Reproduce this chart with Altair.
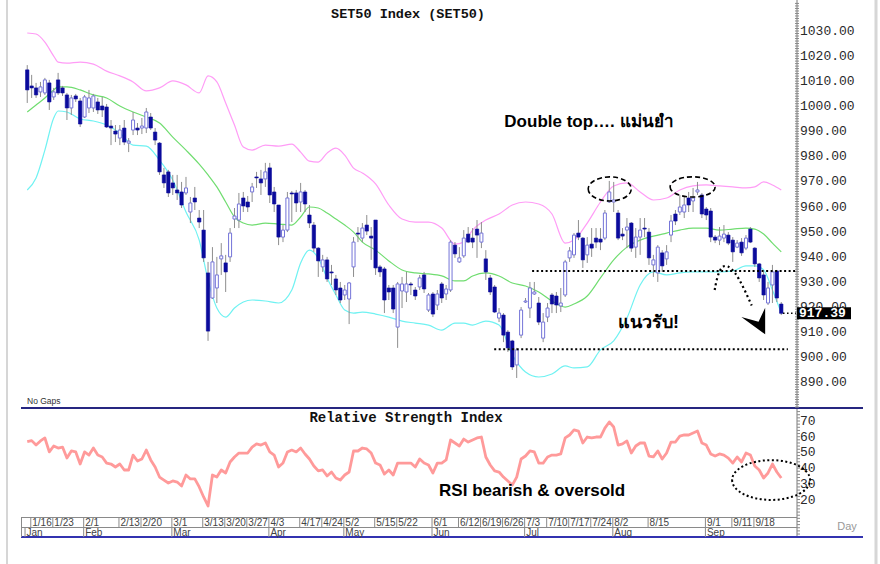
import altair as alt
import pandas as pd

# ---------------- data ----------------
opens = [1014.5,1008.1,1007.3,1005.7,1005.3,1009.3,1003.7,1010.5,1007.3,1004.5,
 999.3,1004.1,1002.1,995.7,999.3,999.3,1001.7,1000.1,999.7,992.1,
 990.1,987.3,991.3,985.3,990.5,991.3,991.3,991.3,995.7,989.7,
 985.3,972.6,973.8,969.4,966.6,965.8,965.4,957.8,963.4,955.4,
 950.6,933.5,923.5,927.5,939.1,937.5,939.9,955.0,954.6,963.4,
 961.8,965.8,971.8,971.0,971.0,975.4,965.8,960.6,947.8,950.6,
 965.4,965.4,961.8,965.8,956.6,952.6,943.4,935.9,938.7,933.9,
 931.1,927.5,924.7,923.1,935.9,949.4,947.4,952.6,948.2,954.6,
 935.9,935.1,927.5,927.5,911.9,926.3,925.9,929.1,926.7,927.9,
 932.7,918.7,925.1,920.7,929.1,925.1,926.7,944.6,937.9,940.3,
 949.0,947.4,951.0,945.8,939.1,931.5,927.9,915.5,916.7,909.9,
 906.4,896.8,908.7,921.9,919.5,925.1,921.5,907.5,915.9,924.7,
 924.3,920.3,924.7,939.5,940.7,949.4,947.4,940.7,945.0,947.4,
 947.0,947.4,961.8,961.8,957.4,949.0,950.6,953.4,943.8,
 947.8,951.4,949.8,936.7,933.5,941.5,939.1,948.6,957.0,957.8,
 957.8,963.4,962.2,965.8,964.6,959.0,958.2,947.8,946.6,947.4,
 948.6,946.6,943.8,945.8,943.4,951.0,943.4,937.1,932.7,921.5,
 928.7,934.3,921.1]
highs = [1016.4,1012.5,1009.3,1009.7,1011.3,1010.5,1007.3,1013.3,1008.1,1005.3,
 1004.5,1004.9,1003.3,1004.5,1006.5,1004.9,1003.3,1003.7,1000.9,994.5,
 992.5,992.5,994.5,987.3,997.7,993.3,995.3,999.3,997.3,991.3,
 985.7,975.4,974.6,972.6,972.6,969.8,971.8,963.8,967.8,958.6,
 958.6,937.9,943.8,939.9,945.4,940.7,951.4,959.4,965.4,965.8,
 964.2,969.4,973.8,974.6,977.4,977.4,967.8,960.6,952.6,965.8,
 966.2,966.6,969.4,966.6,960.6,953.8,943.8,940.7,939.9,936.7,
 932.7,929.9,928.7,929.9,947.8,951.8,953.4,956.6,951.8,954.6,
 936.7,935.9,928.7,928.7,929.9,931.9,933.9,929.9,927.9,932.7,
 933.9,925.5,925.9,926.7,929.9,928.7,946.6,945.8,943.8,950.6,
 951.8,951.4,954.6,953.8,942.6,932.7,928.7,919.5,917.5,910.7,
 906.8,903.6,919.9,923.5,929.9,929.9,923.9,917.5,921.5,925.5,
 925.9,927.5,938.7,943.8,949.4,954.6,947.8,947.8,951.4,951.4,
 951.4,958.6,970.2,969.8,958.6,951.4,955.4,953.8,951.4,
 955.4,955.4,951.4,940.7,944.6,942.6,944.6,956.6,958.6,964.6,
 963.8,965.8,967.4,969.8,965.4,959.8,959.4,948.6,951.8,952.6,
 949.8,947.8,946.6,947.4,948.6,951.8,943.8,937.5,933.9,929.9,
 936.7,934.7,921.9]
lows = [1001.3,1003.3,1003.3,1003.7,1004.5,998.5,1002.5,1004.5,1004.1,994.5,
 996.5,1001.7,991.7,995.3,997.3,997.7,996.9,995.7,991.3,984.5,
 985.7,984.5,984.5,981.7,988.5,988.5,988.9,989.3,990.5,984.5,
 972.6,967.4,963.8,964.6,962.6,959.4,964.6,953.4,958.6,951.4,
 937.9,906.4,923.1,921.5,932.7,925.9,937.9,951.4,951.4,957.8,
 957.8,961.8,967.4,964.6,967.8,961.4,957.8,944.6,945.8,949.8,
 953.8,957.8,957.8,957.8,951.4,941.9,931.9,933.9,929.9,928.7,
 924.7,921.5,922.7,913.1,931.9,945.8,945.8,948.6,938.7,932.7,
 931.9,917.5,922.7,917.5,903.6,919.5,921.9,924.7,922.7,926.7,
 925.5,917.9,915.9,918.7,921.5,922.7,925.9,939.5,937.5,939.5,
 945.4,943.4,939.5,943.4,930.7,924.7,917.5,913.9,905.9,902.0,
 894.8,891.6,907.5,921.5,915.5,924.7,912.7,905.9,913.9,917.5,
 917.5,917.9,923.9,937.9,939.5,946.6,935.5,937.5,939.9,943.4,
 942.6,946.6,961.4,957.8,946.6,946.6,943.4,941.9,939.5,
 940.7,947.8,936.7,931.9,929.9,933.9,936.7,945.8,952.6,956.6,
 955.4,957.8,957.8,964.6,955.4,954.6,945.8,945.4,944.6,945.8,
 944.6,937.9,943.4,940.3,942.6,945.4,935.9,929.9,922.7,920.7,
 921.5,921.9,916.7]
closes = [1006.5,1007.3,1004.5,1007.7,1010.5,1001.7,1005.7,1005.3,1005.3,999.3,
 1003.3,1002.9,992.9,1003.7,1003.3,1004.1,998.5,998.5,991.7,991.3,
 988.9,990.5,985.7,986.1,994.5,990.5,992.1,997.7,991.3,986.5,
 973.8,969.4,965.4,967.4,965.4,960.6,967.4,961.4,961.8,953.8,
 939.5,910.3,937.9,932.7,940.3,933.9,949.4,956.2,961.0,960.2,
 959.8,967.8,971.4,969.4,973.8,964.6,961.0,947.8,950.6,963.4,
 965.0,961.4,965.8,961.0,953.4,943.4,938.3,938.7,931.1,933.5,
 926.7,922.7,926.7,929.5,945.8,949.0,951.4,950.2,947.4,935.5,
 933.9,922.7,925.9,919.1,929.1,929.1,929.1,928.7,924.3,931.5,
 927.1,924.7,917.1,925.1,923.5,927.1,945.8,941.1,939.5,947.4,
 945.8,945.8,948.6,949.4,933.9,925.9,917.9,917.5,908.7,903.6,
 896.0,902.8,918.7,922.3,927.5,925.9,913.9,913.9,919.5,921.1,
 920.7,921.5,937.9,942.3,948.6,947.8,938.7,944.6,943.4,945.8,
 945.8,957.4,965.8,962.6,947.4,948.2,951.8,943.4,947.8,
 950.6,951.0,939.5,938.7,943.8,936.3,941.9,954.2,954.2,959.8,
 960.6,960.6,963.4,966.6,957.0,956.6,947.8,946.6,948.2,949.0,
 945.4,941.9,945.4,941.5,947.4,945.8,937.1,931.5,924.7,927.5,
 933.9,923.5,917.39]

rsi = [56.8,57.5,54.7,57.3,59.2,50.3,54.1,52.8,53.4,46.4,
 50.9,50.3,42.6,50.3,48.3,52.8,48.3,47.1,43.2,42.6,
 40.7,42.6,38.8,38.8,48.3,44.5,45.8,51.5,45.2,40.7,
 34.3,32.4,30.5,31.8,31.1,28.6,35.6,33.1,33.1,28.0,
 21.6,15.9,35.6,34.3,38.8,36.9,43.9,47.1,49.6,49.6,
 49.6,53.4,55.4,54.7,56.0,50.3,48.3,40.7,43.2,50.3,
 51.5,50.3,52.8,49.0,45.8,41.3,38.2,38.8,35.0,37.5,
 33.7,32.4,35.6,37.5,50.9,50.9,52.8,52.2,49.6,43.2,
 42.0,36.2,38.8,35.6,43.2,43.2,43.2,43.2,40.7,45.8,
 43.2,42.0,36.9,43.2,43.2,45.2,57.9,56.0,54.1,58.5,
 56.6,57.9,59.2,59.8,47.1,42.0,38.2,37.5,34.3,31.8,
 29.2,34.3,45.8,47.7,50.9,50.3,43.2,43.2,47.1,48.3,
 48.3,49.0,59.2,61.1,64.3,63.6,56.0,59.8,59.2,59.8,
 59.8,65.5,69.4,66.2,54.7,55.4,57.3,49.6,54.1,56.0,
 56.0,47.7,47.1,50.9,45.8,49.6,56.6,56.6,60.4,61.1,
 61.1,62.4,63.6,56.0,54.7,49.0,47.7,49.0,48.3,46.4,
 43.2,47.1,43.9,49.6,48.3,41.3,38.8,33.7,36.9,42.6,
 37.5,33.7]

band_idx = [0,2,4,6,7,9,12,15,18,21,24,27,30,33,36,39,41,43,45,47,49,51,54,57,60,62,64,66,68,70,72,74,
            76,79,82,85,88,91,94,97,99,101,104,107,110,113,116,119,122,124,127,130,133,136,139,142,145,148,
            151,154,157,160,163,165,167,169,171]
upper = [1029.2,1028.8,1025.6,1020.0,1017.6,1017.2,1017.6,1016.8,1014.0,1012.1,
 1009.7,1006.1,1007.3,1010.1,1008.5,1005.3,1012.1,1009.7,1001.3,992.5,
 983.7,982.5,984.5,984.1,984.9,981.7,978.1,977.7,981.3,983.3,980.5,975.3,
 973.4,969.0,960.6,955.0,953.8,953.8,951.4,945.0,945.8,950.6,
 954.6,957.0,960.6,961.8,961.0,957.0,945.4,946.6,953.4,961.8,
 968.2,969.4,965.8,962.6,963.4,966.6,968.2,968.6,968.2,967.8,
 967.4,967.8,969.8,968.6,966.6]
middle = [997.7,1000.5,1003.3,1006.5,1007.7,1007.7,1006.5,1004.5,1003.3,1000.1,
 997.7,995.7,993.3,987.7,982.5,976.9,972.6,967.8,961.8,955.8,
 953.4,952.6,953.4,953.0,952.6,955.8,959.8,959.4,957.4,955.0,952.6,949.8,
 945.8,942.6,938.3,934.7,933.5,933.1,932.3,930.3,930.3,932.3,
 933.5,932.3,929.5,928.3,925.9,922.3,919.9,921.1,924.3,931.5,
 938.7,943.8,946.6,948.2,949.4,950.6,951.4,951.4,950.6,951.0,
 951.4,951.0,949.0,945.4,941.9]
lower = [966.6,971.4,982.5,995.3,998.1,997.7,994.9,994.1,992.5,989.3,
 984.5,984.1,978.5,970.6,957.8,946.6,930.7,919.5,915.9,919.5,
 921.9,922.7,922.3,921.5,926.7,937.5,942.6,939.4,931.5,924.7,918.7,917.5,
 917.9,917.1,915.9,914.3,913.5,912.7,910.7,913.5,913.5,912.7,
 914.3,912.7,900.8,894.0,892.0,893.2,896.4,895.6,896.0,902.8,
 906.4,915.5,928.7,933.9,932.7,933.5,933.9,933.9,933.9,934.3,
 936.3,936.3,934.7,926.7,917.5]

price_ticks = [890, 900, 910, 920, 930, 940, 950, 960, 970, 980, 990, 1000, 1010, 1020, 1030]
rsi_ticks = [20, 30, 40, 50, 60, 70]
date_labels = ["1/16","1/23","2/1","2/13","2/20","3/1","3/13","3/20","3/27","4/3","4/17","4/24",
               "5/2","5/15","5/22","6/1","6/12","6/19","6/26","7/3","7/10","7/17","7/24","8/2",
               "8/15","9/1","9/11","9/18"]
date_idx = [1,6,13,21,26,33,40,45,50,55,62,67,72,79,84,92,98,103,108,113,118,123,128,133,141,154,160,165]
month_labels = ["Jan","Feb","Mar","Apr","May","Jun","Jul","Aug","Sep"]
month_idx = [-0.3,13,33,55,72,92,113,133,154]

resistance = 934.3
support = 903.1

# ---------------- scales ----------------
X_DOM = [-5.045, 192.26]
P_DOM = [817.4, 1042.37]
R_DOM = [-21.08, 338.15]

def XI(f="i"):
    return alt.X(f"{f}:Q", scale=alt.Scale(domain=X_DOM, nice=False, zero=False), axis=None)

def PY(f):
    return alt.Y(f"{f}:Q", scale=alt.Scale(domain=P_DOM, nice=False, zero=False), axis=None)

def RY(f):
    return alt.Y(f"{f}:Q", scale=alt.Scale(domain=R_DOM, nice=False, zero=False), axis=None)

one = pd.DataFrame({"d": [0]})

def prule(x, x2, y, y2, color, width=1, dash=None):
    kw = dict(color=color, strokeWidth=width)
    if dash:
        kw["strokeDash"] = dash
    return alt.Chart(one).mark_rule(**kw).encode(
        x=alt.value(x), x2=alt.value(x2), y=alt.value(y), y2=alt.value(y2))

def ptext(x, y, text, **kw):
    return alt.Chart(one).mark_text(text=text, **kw).encode(x=alt.value(x), y=alt.value(y))

SANS = "Liberation Sans, Arial, Noto Sans, sans-serif"
MONO = "Liberation Mono, Courier New, monospace"

# ---------------- frames ----------------
layers = []
layers.append(prule(7, 7, 0, 564, "#d6d6d6", 2))
layers.append(prule(876, 876, 0, 564, "#d6d6d6", 3))
layers.append(prule(797, 797, 0, 537, "#7a7a7a", 1))
layers.append(prule(21, 863, 408, 408, "#262680", 2))
layers.append(prule(21, 863, 537, 537, "#3333b0", 2))
layers.append(prule(21, 797, 517.5, 517.5, "#8a8a8a", 1))
layers.append(prule(21, 797, 527.5, 527.5, "#8a8a8a", 1))
layers.append(prule(21.5, 21.5, 517, 537, "#8a8a8a", 1))

# minor ticks on the value axes
minor_p = pd.DataFrame({"v": list(range(880, 1042))})
layers.append(alt.Chart(minor_p).mark_rule(color="#8a8a8a", strokeWidth=1).encode(
    x=alt.value(795), x2=alt.value(799), y=PY("v")))
minor_r = pd.DataFrame({"v": list(range(-2, 77, 2))})
layers.append(alt.Chart(minor_r).mark_rule(color="#8a8a8a", strokeWidth=1).encode(
    x=alt.value(797), x2=alt.value(800), y=RY("v")))

# ---------------- price panel ----------------
df = pd.DataFrame({"i": list(range(len(closes))), "open": opens, "high": highs,
                   "low": lows, "close": closes})
bands = pd.DataFrame({"i": band_idx, "upper": upper, "middle": middle, "lower": lower})

for col, colr in [("upper", "#ff9cf6"), ("middle", "#70dd70"), ("lower", "#70f2f2")]:
    layers.append(alt.Chart(bands).mark_line(color=colr, strokeWidth=1.2, interpolate="monotone")
                  .encode(x=XI(), y=PY(col)))

layers.append(alt.Chart(df).mark_rule(color="#8e8e8e", strokeWidth=1).encode(
    x=XI(), y=PY("low"), y2="high:Q"))
layers.append(alt.Chart(df).transform_filter("datum.close >= datum.open")
              .mark_bar(size=3, fill="white", stroke="#7474d8", strokeWidth=1)
              .encode(x=XI(), y=PY("open"), y2="close:Q"))
layers.append(alt.Chart(df).transform_filter("datum.close < datum.open")
              .mark_bar(size=3.4, fill="#0b0b9c", stroke="#0b0b9c", strokeWidth=0.6)
              .encode(x=XI(), y=PY("open"), y2="close:Q"))

# price axis labels
ptk = pd.DataFrame({"v": price_ticks, "label": [f"{v:.2f}" for v in price_ticks]})
layers.append(alt.Chart(ptk).mark_text(align="left", baseline="middle", font=MONO, fontSize=13,
                                       color="#2a2a2a").encode(x=alt.value(800), y=PY("v"), text="label:N"))

# last price box
last = pd.DataFrame({"i": [len(closes) - 1], "v": [closes[-1]], "top": [closes[-1] + 2.4],
                     "bot": [closes[-1] - 2.4], "label": [f"{closes[-1]:.2f}"],
                     "i0": [len(closes) - 0.6], "i1": [174.3]})
layers.append(alt.Chart(last).mark_rule(color="black", strokeWidth=1.5, strokeDash=[1.5, 2.5]).encode(
    x=XI("i0"), x2="i1:Q", y=PY("v")))
layers.append(alt.Chart(last).mark_rect(color="black").encode(
    x=alt.value(797), x2=alt.value(851), y=PY("top"), y2="bot:Q"))
layers.append(alt.Chart(last).mark_text(align="left", baseline="middle", font=MONO, fontSize=13,
                                        fontWeight="bold", color="white")
              .encode(x=alt.value(799), y=PY("v"), text="label:N"))

# support / resistance dotted lines
sr = pd.DataFrame({"i": [114.5, 174.4, 105.9, 172.5],
                   "v": [resistance, resistance, support, support],
                   "g": ["r", "r", "s", "s"]})
layers.append(alt.Chart(sr).mark_line(color="black", strokeWidth=2, strokeDash=[2, 2.5]).encode(
    x=XI(), y=PY("v"), detail="g:N"))

# dotted curved arrow
arrow = pd.DataFrame({"i": [155.9, 156.5, 157.5, 158.9, 160.5, 162.3, 164.3],
                      "v": [926.7, 932.3, 936.3, 936.5, 933.9, 928.3, 920.5]})
layers.append(alt.Chart(arrow).mark_line(color="black", strokeWidth=2.2, strokeDash=[2, 3],
                                         interpolate="basis").encode(x=XI(), y=PY("v")))
head = pd.DataFrame({"i": [164.8], "v": [914.3]})
layers.append(alt.Chart(head).mark_point(
    shape="M -0.95 -0.3 L 0.35 0.05 L 0.85 -1 L 0.85 1 Z", size=700, filled=True,
    color="black", opacity=1).encode(x=XI(), y=PY("v")))

# dashed ellipses around the two tops
ell = pd.DataFrame({"i": [132.1], "v": [967.0]})
layers.append(alt.Chart(ell).mark_point(
    shape="M -1 0 A 1 0.56 0 1 0 1 0 A 1 0.56 0 1 0 -1 0", size=1849, filled=False,
    color="black", strokeWidth=1.6, strokeDash=[5, 3], opacity=1).encode(x=XI(), y=PY("v")))
ell2 = pd.DataFrame({"i": [150.9], "v": [967.8]})
layers.append(alt.Chart(ell2).mark_point(
    shape="M -1 0 A 1 0.45 0 1 0 1 0 A 1 0.45 0 1 0 -1 0", size=2025, filled=False,
    color="black", strokeWidth=1.6, strokeDash=[5, 3], opacity=1).encode(x=XI(), y=PY("v")))

# annotation texts
t1 = pd.DataFrame({"i": [108.2], "v": [993.7], "t": ["Double top…. แม่นยำ"]})
layers.append(alt.Chart(t1).mark_text(align="left", baseline="middle", font=SANS, fontSize=17,
                                      fontWeight="bold", color="black").encode(x=XI(), y=PY("v"), text="t:N"))
t2 = pd.DataFrame({"i": [134.0], "v": [913.5], "t": ["แนวรับ!"]})
layers.append(alt.Chart(t2).mark_text(align="left", baseline="middle", font=SANS, fontSize=18,
                                      fontWeight="bold", color="black").encode(x=XI(), y=PY("v"), text="t:N"))

# titles
layers.append(ptext(408, 14, "SET50 Index (SET50)", font=MONO, fontSize=13.5, fontWeight="bold",
                    color="#111", align="center", baseline="middle"))
layers.append(ptext(27, 401, "No Gaps", font=SANS, fontSize=8.5, color="#333", align="left",
                    baseline="middle"))

# ---------------- RSI panel ----------------
rdf = pd.DataFrame({"i": list(range(len(rsi))), "rsi": rsi})
layers.append(alt.Chart(rdf).mark_line(color="#ff9a9a", strokeWidth=2.8, strokeJoin="round")
              .encode(x=XI(), y=RY("rsi")))
rtk = pd.DataFrame({"v": rsi_ticks, "label": [str(v) for v in rsi_ticks]})
layers.append(alt.Chart(rtk).mark_text(align="left", baseline="middle", font=MONO, fontSize=13,
                                       color="#2a2a2a").encode(x=alt.value(800), y=RY("v"), text="label:N"))
layers.append(ptext(406, 418, "Relative Strength Index", font=MONO, fontSize=14, fontWeight="bold",
                    color="#111", align="center", baseline="middle"))
t3 = pd.DataFrame({"i": [93.4], "v": [25.6], "t": ["RSI bearish & oversold"]})
layers.append(alt.Chart(t3).mark_text(align="left", baseline="middle", font=SANS, fontSize=17,
                                      fontWeight="bold", color="black").encode(x=XI(), y=RY("v"), text="t:N"))
ell3 = pd.DataFrame({"i": [168.7], "v": [32.4]})
layers.append(alt.Chart(ell3).mark_point(
    shape="M -1 0 A 1 0.51 0 1 0 1 0 A 1 0.51 0 1 0 -1 0", size=6084, filled=False,
    color="black", strokeWidth=2, strokeDash=[2, 2.5], opacity=1).encode(x=XI(), y=RY("v")))

# ---------------- date axis ----------------
dd = pd.DataFrame({"i": [v - 0.2 for v in date_idx], "label": date_labels})
layers.append(alt.Chart(dd).mark_rule(color="#8a8a8a", strokeWidth=1).encode(
    x=XI(), y=alt.value(517.5), y2=alt.value(527.5)))
layers.append(alt.Chart(dd).mark_text(align="left", baseline="middle", font=SANS, fontSize=10,
                                      color="#444", dx=1.5).encode(x=XI(), y=alt.value(523), text="label:N"))
md = pd.DataFrame({"i": [v - 0.2 for v in month_idx], "label": month_labels})
layers.append(alt.Chart(md).mark_rule(color="#8a8a8a", strokeWidth=1).encode(
    x=XI(), y=alt.value(527.5), y2=alt.value(537)))
layers.append(alt.Chart(md).mark_text(align="left", baseline="middle", font=SANS, fontSize=10,
                                      color="#444", dx=1.5).encode(x=XI(), y=alt.value(532.5), text="label:N"))
layers.append(ptext(847, 527, "Day", font=SANS, fontSize=11, color="#999", align="center",
                    baseline="middle"))

chart = alt.layer(*layers).resolve_scale(y="independent").properties(
    width=880, height=564, autosize=alt.AutoSizeParams(type="none"), padding=0,
    background="white").configure_view(stroke=None)

chart.save("out.html", embed_options={"renderer": "svg", "actions": False})
